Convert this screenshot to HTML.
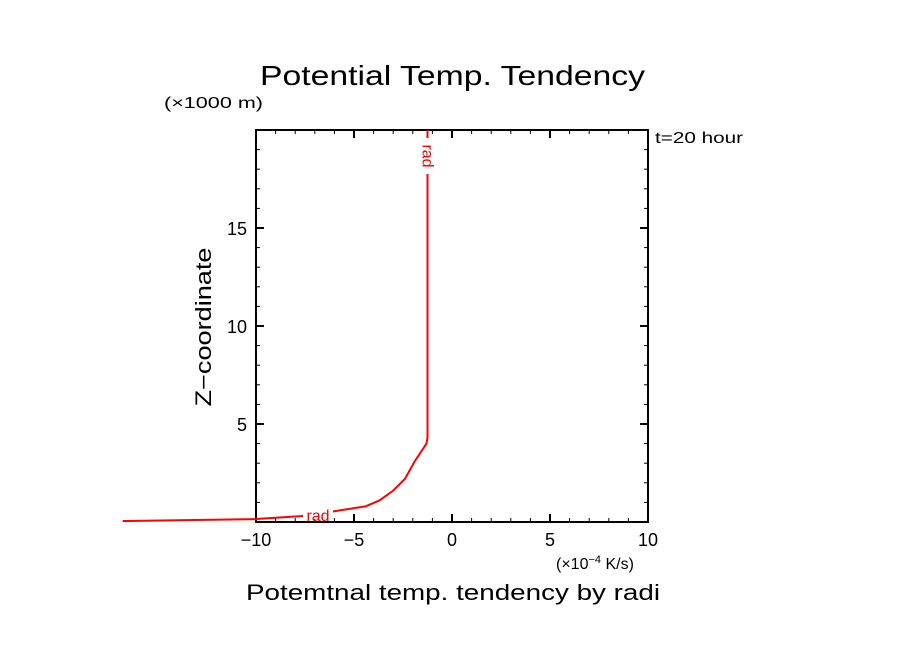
<!DOCTYPE html>
<html><head><meta charset="utf-8"><style>
body{margin:0;background:#fff;}
svg text{font-family:"Liberation Sans",sans-serif;}
</style></head><body>
<svg id="chart" width="904" height="654" viewBox="0 0 904 654" xmlns="http://www.w3.org/2000/svg">
<rect width="904" height="654" fill="#fff"/>
<text x="260" y="85" font-size="28" textLength="385" lengthAdjust="spacingAndGlyphs">Potential Temp. Tendency</text>
<text x="164" y="108" font-size="16" textLength="99" lengthAdjust="spacingAndGlyphs">(×1000 m)</text>
<text x="655" y="143" font-size="16" textLength="88" lengthAdjust="spacingAndGlyphs">t=20 hour</text>
<text transform="translate(211,327) rotate(-90)" font-size="22" text-anchor="middle" textLength="159" lengthAdjust="spacingAndGlyphs">Z−coordinate</text>
<text x="556" y="569" font-size="16">(×10<tspan font-size="11" dy="-6">−4</tspan><tspan dy="6"> K/s)</tspan></text>
<text x="246" y="600" font-size="22" textLength="414" lengthAdjust="spacingAndGlyphs">Potemtnal temp. tendency by radi</text>
<g id="axes"></g>
<g id="series"></g>
</svg>
<script>
const xTicks=[-10,-5,0,5,10];
const xTickLabels=["−10","−5","0","5","10"];
const yTicks=[5,10,15];
const yTickLabels=["5","10","15"];
const radX=[-16.8,-10,-7.7,-6,-4.4,-3.7,-3.0,-2.4,-1.9,-1.3,-1.25,-1.25];
const radZ=[0.05,0.15,0.3,0.55,0.8,1.1,1.6,2.2,3.1,4.0,4.3,20];
const L=256,R=648,T=130,B=522,xMin=-10,xMax=10,zMin=0,zMax=20;
const sx=v=>L+(v-xMin)/(xMax-xMin)*(R-L);
const sy=v=>B-(v-zMin)/(zMax-zMin)*(B-T);
const NS="http://www.w3.org/2000/svg";
function mk(tag,attrs,parent){const e=document.createElementNS(NS,tag);for(const k in attrs)e.setAttribute(k,attrs[k]);parent.appendChild(e);return e;}
const ax=document.getElementById('axes');
const frame=mk('rect',{x:L,y:T,width:R-L,height:B-T,fill:'none',stroke:'#000','stroke-width':2},ax);


for(let v=xMin;v<=xMax;v++){const major=v%5===0;const len=major?8:4;const x=sx(v);
 mk('line',{x1:x,y1:B,x2:x,y2:B-len,stroke:'#000','stroke-width':major?2:1},ax);
 mk('line',{x1:x,y1:T,x2:x,y2:T+len,stroke:'#000','stroke-width':major?2:1},ax);}
for(let v=zMin;v<=zMax;v++){const major=v%5===0;const len=major?8:4;const y=sy(v);
 mk('line',{x1:L,y1:y,x2:L+len,y2:y,stroke:'#000','stroke-width':major?2:1},ax);
 mk('line',{x1:R,y1:y,x2:R-len,y2:y,stroke:'#000','stroke-width':major?2:1},ax);}
xTicks.forEach((v,i)=>{const t=mk('text',{x:sx(v),y:B+24,'font-size':18,'text-anchor':'middle'},ax);t.textContent=xTickLabels[i];
 
 });
yTicks.forEach((v,i)=>{const t=mk('text',{x:L-9,y:sy(v)+7,'font-size':18,'text-anchor':'end'},ax);t.textContent=yTickLabels[i];
 
 });
const s=document.getElementById('series');
const p=mk('polyline',{points:radX.map((x,i)=>sx(x)+','+sy(radZ[i])).join(' '),fill:'none',stroke:'#f00','stroke-width':2},s);


mk('rect',{x:303,y:505,width:30,height:14,fill:'#fff'},s);
const l1=mk('text',{x:318,y:521,'font-size':16,fill:'#f00','text-anchor':'middle'},s);l1.textContent='rad';


const xr=sx(radX[radX.length-1]);
mk('rect',{x:xr-8,y:138,width:16,height:36,fill:'#fff'},s);
const l2=mk('text',{x:0,y:0,'font-size':16,fill:'#f00','text-anchor':'middle',transform:`translate(${xr-5},156) rotate(90)`},s);l2.textContent='rad';


</script>
</body></html>
